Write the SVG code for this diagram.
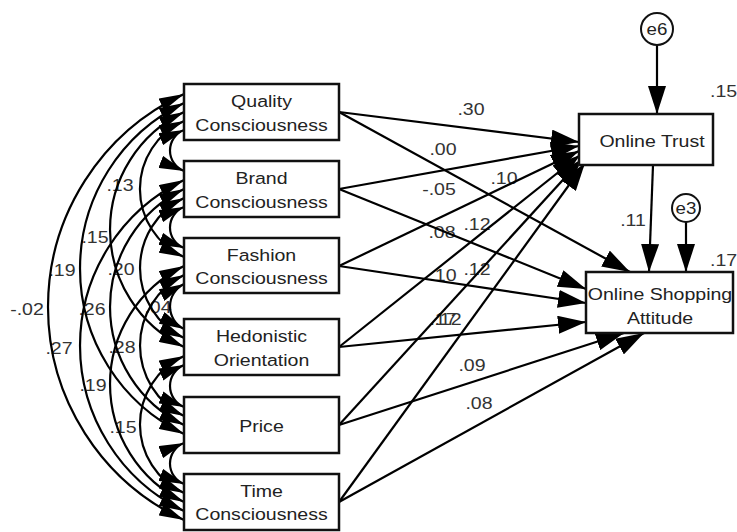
<svg xmlns="http://www.w3.org/2000/svg" width="737" height="532" viewBox="0 0 737 532">
<style>
.bx{fill:#fff;stroke:#111;stroke-width:2.5}
.ci{fill:#fff;stroke:#111;stroke-width:2}
.t{font-family:"Liberation Sans",Arial,sans-serif;font-size:17px;fill:#222;text-anchor:middle}
.n{font-family:"Liberation Sans",Arial,sans-serif;font-size:17px;fill:#333;text-anchor:middle}
.ns{font-family:"Liberation Sans",Arial,sans-serif;font-size:17px;fill:#333;text-anchor:start}
.ln{fill:none;stroke:#000;stroke-width:2.2;marker-end:url(#ah)}
.cv{fill:none;stroke:#000;stroke-width:2.2;marker-start:url(#ca);marker-end:url(#ca)}
</style>
<defs>
<marker id="ah" markerUnits="userSpaceOnUse" viewBox="0 0 28 18" markerWidth="28" markerHeight="18" refX="28" refY="9" orient="auto"><path d="M0,0 L28,9 L0,18 z" fill="#000"/></marker>
<marker id="ca" markerUnits="userSpaceOnUse" viewBox="0 0 25 13" markerWidth="25" markerHeight="13" refX="25" refY="6.5" orient="auto-start-reverse"><path d="M0,0 L25,6.5 L0,13 z" fill="#000"/></marker>
</defs>
<rect width="737" height="532" fill="#fff"/>
<g id="labels">
<text class="n" transform="translate(27,315) scale(1.15,1)">-.02</text>
<text class="n" transform="translate(62,276) scale(1.15,1)">.19</text>
<text class="n" transform="translate(59,354) scale(1.15,1)">.27</text>
<text class="n" transform="translate(95,243) scale(1.15,1)">.15</text>
<text class="n" transform="translate(92,315) scale(1.15,1)">.26</text>
<text class="n" transform="translate(93,391) scale(1.15,1)">.19</text>
<text class="n" transform="translate(120,191) scale(1.15,1)">.13</text>
<text class="n" transform="translate(121,275) scale(1.15,1)">.20</text>
<text class="n" transform="translate(122,353) scale(1.15,1)">.28</text>
<text class="n" transform="translate(123,433) scale(1.15,1)">.15</text>
<text class="n" transform="translate(158,313) scale(1.15,1)">.04</text>
<text class="n" transform="translate(471,115) scale(1.15,1)">.30</text>
<text class="n" transform="translate(443,155) scale(1.15,1)">.00</text>
<text class="n" transform="translate(439,195) scale(1.15,1)">-.05</text>
<text class="n" transform="translate(504,184) scale(1.15,1)">.10</text>
<text class="n" transform="translate(442,238) scale(1.15,1)">.08</text>
<text class="n" transform="translate(477,230) scale(1.15,1)">.12</text>
<text class="n" transform="translate(443,281) scale(1.15,1)">.10</text>
<text class="n" transform="translate(477,275) scale(1.15,1)">.12</text>
<text class="n" transform="translate(443,325) scale(1.15,1)">.17</text>
<text class="n" transform="translate(448,325) scale(1.15,1)">.12</text>
<text class="n" transform="translate(472,371) scale(1.15,1)">.09</text>
<text class="n" transform="translate(479,409) scale(1.15,1)">.08</text>
<text class="n" transform="translate(633,226) scale(1.15,1)">.11</text>
<text class="ns" transform="translate(710,97) scale(1.15,1)">.15</text>
<text class="ns" transform="translate(710,266) scale(1.15,1)">.17</text>
</g>
<g id="connectors">
<path class="cv" d="M184,94 A234.8,234.8 0 0 0 184,520"/>
<path class="cv" d="M184,103 A183.7,183.7 0 0 0 184,434"/>
<path class="cv" d="M184,180 A183.7,183.7 0 0 0 184,511"/>
<path class="cv" d="M184,112 A130.3,130.3 0 0 0 184,347"/>
<path class="cv" d="M184,189 A131.1,131.1 0 0 0 184,425"/>
<path class="cv" d="M184,266 A131.1,131.1 0 0 0 184,502"/>
<path class="cv" d="M184,121 A74.5,74.5 0 0 0 184,257"/>
<path class="cv" d="M184,198 A77.7,77.7 0 0 0 184,338"/>
<path class="cv" d="M184,275 A78.5,78.5 0 0 0 184,416"/>
<path class="cv" d="M184,356 A75.3,75.3 0 0 0 184,493"/>
<path class="cv" d="M184,130 A22,22 0 0 0 184,171"/>
<path class="cv" d="M184,207 A22,22 0 0 0 184,248"/>
<path class="cv" d="M184,284 A25.1,25.1 0 0 0 184,329"/>
<path class="cv" d="M184,365 A22.75,22.75 0 0 0 184,407"/>
<path class="cv" d="M184,443 A22,22 0 0 0 184,484"/>
<path class="ln" d="M339,112 L579,142"/>
<path class="ln" d="M339,189 L579,146"/>
<path class="ln" d="M339,266 L579,151"/>
<path class="ln" d="M339,347 L580,155"/>
<path class="ln" d="M339,425 L582,159"/>
<path class="ln" d="M339,502 L585,163"/>
<path class="ln" d="M339,112 L630,272"/>
<path class="ln" d="M339,189 L586,289"/>
<path class="ln" d="M339,266 L586,303"/>
<path class="ln" d="M339,347 L586,322"/>
<path class="ln" d="M339,425 L624,333"/>
<path class="ln" d="M339,502 L644,333"/>
<path class="ln" d="M657,45 L657,114"/>
<path class="ln" d="M686,222 L686,272"/>
<path class="ln" d="M653,165 L649,272"/>
</g>
<g id="quality"><rect class="bx" x="184" y="84" width="155" height="56"/><text class="t" transform="translate(261.5,107) scale(1.15,1)">Quality</text><text class="t" transform="translate(261.5,131) scale(1.15,1)">Consciousness</text></g>
<g id="brand"><rect class="bx" x="184" y="161" width="155" height="56"/><text class="t" transform="translate(261.5,184) scale(1.15,1)">Brand</text><text class="t" transform="translate(261.5,208) scale(1.15,1)">Consciousness</text></g>
<g id="fashion"><rect class="bx" x="184" y="238" width="155" height="55"/><text class="t" transform="translate(261.5,261) scale(1.15,1)">Fashion</text><text class="t" transform="translate(261.5,284) scale(1.15,1)">Consciousness</text></g>
<g id="hedonistic"><rect class="bx" x="184" y="319" width="155" height="56"/><text class="t" transform="translate(261.5,342) scale(1.15,1)">Hedonistic</text><text class="t" transform="translate(261.5,366) scale(1.15,1)">Orientation</text></g>
<g id="price"><rect class="bx" x="184" y="397" width="155" height="56"/><text class="t" transform="translate(261.5,432) scale(1.15,1)">Price</text></g>
<g id="time"><rect class="bx" x="184" y="474" width="155" height="56"/><text class="t" transform="translate(261.5,497) scale(1.15,1)">Time</text><text class="t" transform="translate(261.5,520) scale(1.15,1)">Consciousness</text></g>
<g id="trust"><rect class="bx" x="579" y="114" width="134" height="51"/><text class="t" transform="translate(652,147) scale(1.15,1)">Online Trust</text></g>
<g id="attitude"><rect class="bx" x="586" y="272" width="147" height="61"/><text class="t" transform="translate(660,300) scale(1.15,1)">Online Shopping</text><text class="t" transform="translate(660,324) scale(1.15,1)">Attitude</text></g>
<g id="e6"><circle class="ci" cx="657" cy="29" r="16"/><text class="t" transform="translate(657,35) scale(1.1,1)">e6</text></g>
<g id="e3"><circle class="ci" cx="686" cy="208" r="14"/><text class="t" transform="translate(686,214) scale(1.1,1)">e3</text></g>
</svg>
